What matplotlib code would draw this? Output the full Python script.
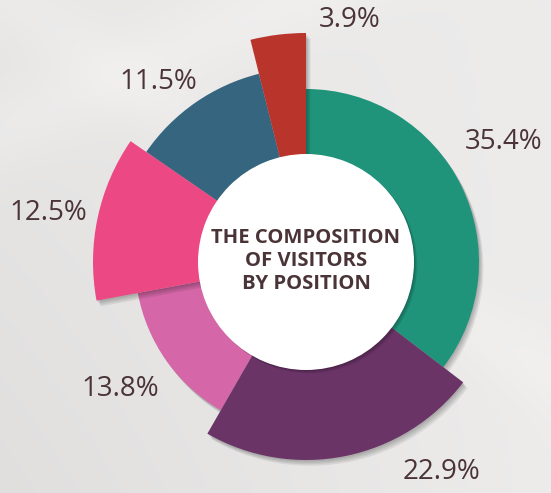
import numpy as np
import matplotlib.pyplot as plt
import matplotlib.patheffects as pe

# share of visitors by position (clockwise from 12 o'clock)
shares = [35.4, 22.9, 13.8, 12.5, 11.5, 3.9]
labels = ['35.4%', '22.9%', '13.8%', '12.5%', '11.5%', '3.9%']
colors = ['#1f947a', '#6b3467', '#d567a8', '#ec4984', '#36657f', '#b9352b']
outer = [173, 198, 171, 213, 194, 229]     # outer radius of each slice (px)
label_pos = [(58.7, 231), (147.3, 250), (235.7, 225), (280.8, 262), (320.6, 233), (10.3, 246)]
title = 'THE COMPOSITION\nOF VISITORS\nBY POSITION'

W, H = 551, 493
cx, cy = 306, 262
S = 250
inner = 108
text_color = '#4b3437'

fig = plt.figure(figsize=(W / 100, H / 100), dpi=100)

# soft grey background with light streaks
bg = fig.add_axes([0, 0, 1, 1])
yy, xx = np.mgrid[0:H, 0:W]
val = 0.905 - 0.03 * (yy / H) * (1 - xx / W) + 0.02 * (xx / W)
d1 = (xx * 0.45 + yy - 130) / 1.1
val += 0.02 * np.exp(-(d1 / 40) ** 2)
d2 = (xx * 0.7 - yy - 10) / 1.2
val += 0.015 * np.exp(-(d2 / 35) ** 2)
val = np.clip(val, 0, 1)
rgb = np.dstack([val + 0.004, val, val - 0.003])
bg.imshow(np.clip(rgb, 0, 1), extent=(0, W, H, 0), aspect='auto', interpolation='bilinear')
bg.axis('off')

ax = fig.add_axes([(cx - S) / W, (H - cy - S) / H, 2 * S / W, 2 * S / H], projection='polar')
ax.set_theta_zero_location('N')
ax.set_theta_direction(-1)
ax.set_ylim(0, S)
ax.axis('off')

shadow = [pe.SimplePatchShadow(offset=(o, -o * 1.3), shadow_rgbFace='k', alpha=0.07)
          for o in (0.8, 1.6, 2.4, 3.2)] + [pe.Normal()]

widths = np.array(shares) / sum(shares) * 2 * np.pi
starts = np.concatenate([[0], np.cumsum(widths)[:-1]])
order = np.argsort(outer)
for z, i in enumerate(order):
    ax.bar(starts[i], outer[i] - 60, width=widths[i], bottom=60, align='edge',
           color=colors[i], linewidth=0, zorder=2 + z, path_effects=shadow)

# white centre disc
ax.bar(0, inner, width=2 * np.pi, bottom=0, align='edge', color='white', linewidth=0,
       zorder=20, path_effects=[pe.SimplePatchShadow(offset=(o, -o), shadow_rgbFace='k', alpha=0.07)
                                for o in (0.6, 1.2, 1.8, 2.4)] + [pe.Normal()])

for lab, (th, r) in zip(labels, label_pos):
    ax.text(np.deg2rad(th), r, lab, ha='center', va='center', fontsize=20,
            family='Open Sans', color=text_color, zorder=30)

fig.text(cx / W, 1 - 261 / H, title, ha='center', va='center', fontsize=14.6,
         fontweight='bold', family='Open Sans', color=text_color, linespacing=1.2, zorder=40)

fig.savefig('out.png', dpi=100)
